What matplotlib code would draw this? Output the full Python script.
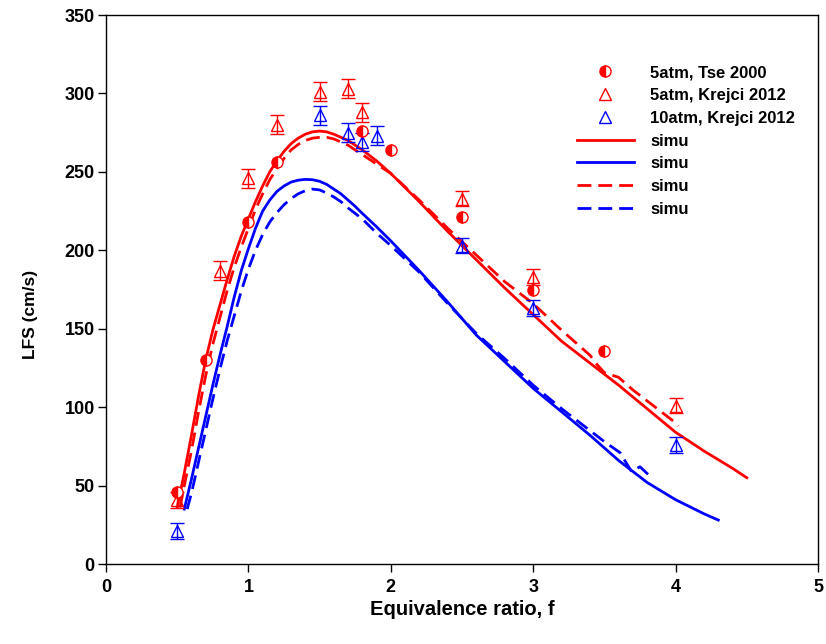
import numpy as np
import matplotlib
matplotlib.use("Agg")
import matplotlib.pyplot as plt

plt.rcParams['font.family'] = ['Liberation Sans', 'DejaVu Sans']
plt.rcParams['font.weight'] = 'bold'

# experimental data
tse_x = [0.5, 0.7, 1.0, 1.2, 1.8, 2.0, 2.5, 3.0, 3.5]
tse_y = [46, 130, 218, 256, 276, 264, 221, 175, 136]

kr5_x = [0.5, 0.8, 1.0, 1.2, 1.5, 1.7, 1.8, 2.5, 3.0, 4.0]
kr5_y = [41, 187, 246, 280, 301, 303, 288, 233, 183, 101]
kr5_err = [5, 6, 6, 6, 6, 6, 6, 5, 5, 5]

kr10_x = [0.5, 1.5, 1.7, 1.8, 1.9, 2.5, 3.0, 4.0]
kr10_y = [21, 286, 275, 269, 273, 203, 163, 76]
kr10_err = [5, 6, 6, 6, 6, 5, 5, 5]

# simulations
sim5_x = [0.50, 0.55, 0.60, 0.65, 0.70, 0.75, 0.80, 0.85, 0.90, 0.95, 1.00, 1.05,
          1.10, 1.15, 1.20, 1.25, 1.30, 1.35, 1.40, 1.45, 1.50, 1.55, 1.60, 1.65,
          1.70, 1.75, 1.80, 1.90, 2.00, 2.20, 2.40, 2.60, 2.80, 3.00, 3.20, 3.40,
          3.60, 3.80, 4.00, 4.20, 4.40, 4.50]
sim5_y = [36, 58, 82, 107, 130, 149, 165, 181, 196, 209, 220, 231,
          241, 250, 257, 263, 268, 271.5, 274, 275.5, 276, 275.5, 274, 272,
          270, 267, 264, 257, 249, 231, 212, 194, 176, 159, 142, 128,
          114, 99, 84, 72, 61, 55]

sim10_x = [0.55, 0.60, 0.65, 0.70, 0.75, 0.80, 0.85, 0.90, 0.95, 1.00, 1.05, 1.10,
           1.15, 1.20, 1.25, 1.30, 1.35, 1.40, 1.45, 1.50, 1.55, 1.60, 1.65, 1.70,
           1.75, 1.80, 1.90, 2.00, 2.20, 2.40, 2.60, 2.80, 3.00, 3.20, 3.40, 3.60,
           3.80, 4.00, 4.20, 4.30]
sim10_y = [35, 54, 74, 94, 114, 133, 151, 170, 187, 201, 214, 225,
           232, 237.5, 241, 243.5, 244.7, 245.2, 245, 244, 242, 239, 236, 232,
           228, 223.5, 215, 206, 187, 167, 146, 129, 112, 97, 82, 66,
           52, 41, 32, 28]

sim5d_x = [0.52, 0.55, 0.60, 0.65, 0.70, 0.75, 0.80, 0.85, 0.90, 0.95, 1.00, 1.05,
           1.10, 1.15, 1.20, 1.25, 1.30, 1.35, 1.40, 1.45, 1.50, 1.55, 1.60, 1.65,
           1.70, 1.75, 1.80, 1.90, 2.00, 2.20, 2.40, 2.60, 2.80, 3.00, 3.20, 3.40,
           3.45, 3.50, 3.60, 3.70, 3.80, 3.90, 4.00, 4.02]
sim5d_y = [36, 50, 72, 97, 120, 140, 157, 174, 189, 202, 214, 226,
           236, 245, 252, 258.5, 264, 267.5, 270, 271.5, 272, 272, 271, 269,
           267, 264, 261, 255, 249, 232, 214, 197, 180, 166, 149, 133,
           127, 122, 119, 111, 104, 97, 90, 88]

sim10d_x = [0.57, 0.60, 0.65, 0.70, 0.75, 0.80, 0.85, 0.90, 0.95, 1.00, 1.05, 1.10,
            1.15, 1.20, 1.25, 1.30, 1.35, 1.40, 1.45, 1.50, 1.55, 1.60, 1.65, 1.70,
            1.75, 1.80, 1.90, 2.00, 2.20, 2.40, 2.60, 2.80, 3.00, 3.20, 3.40, 3.50,
            3.61, 3.65, 3.69, 3.75, 3.82]
sim10d_y = [35, 45, 65, 85, 105, 124, 142, 158, 174, 188, 200, 210,
            218, 224, 229, 233, 236, 238, 239, 238.5, 236.5, 234, 231, 227,
            223.5, 220, 211, 203, 186, 166, 147, 131, 114, 99, 85, 78,
            71, 65, 59, 62, 56]

red = '#ff0000'
blue = '#0000ff'

fig = plt.figure(figsize=(8.26, 6.44), dpi=100)
ax = fig.add_axes([0.1283, 0.1242, 0.8620, 0.8525])

h_tse, = ax.plot(tse_x, tse_y, 'o', color=red, mec=red, mfc=red, fillstyle='left',
                 markerfacecoloralt='white', ms=8, mew=1, zorder=5)
eb5 = ax.errorbar(kr5_x, kr5_y, yerr=kr5_err, fmt='^', color=red, mfc='none', ms=9,
                  mew=1, elinewidth=1, capsize=5, capthick=1, zorder=4)
eb10 = ax.errorbar(kr10_x, kr10_y, yerr=kr10_err, fmt='^', color=blue, mfc='none', ms=9,
                   mew=1, elinewidth=1, capsize=5, capthick=1, zorder=4)

h1, = ax.plot(sim5_x, sim5_y, '-', color=red, lw=2)
h2, = ax.plot(sim10_x, sim10_y, '-', color=blue, lw=2)
h3, = ax.plot(sim5d_x, sim5d_y, '--', color=red, lw=2, dashes=(5, 2.5))
h4, = ax.plot(sim10d_x, sim10d_y, '--', color=blue, lw=2, dashes=(5, 2.5))

ax.set_xlim(0, 5)
ax.set_ylim(0, 350)
ax.set_xticks(range(0, 6))
ax.set_yticks(range(0, 351, 50))
ax.tick_params(direction='out', length=6, width=1, labelsize=13)
ax.tick_params(axis='x', pad=5)
ax.tick_params(axis='y', pad=2)
for lab in ax.get_xticklabels() + ax.get_yticklabels():
    lab.set_fontweight('bold')
for s in ax.spines.values():
    s.set_linewidth(1)

ax.set_xlabel('Equivalence ratio, f', fontsize=14.5, fontweight='bold', labelpad=3)
ax.set_ylabel('LFS (cm/s)', fontsize=12.5, fontweight='bold')
ax.yaxis.set_label_coords(-0.095, 0.455)

handles = [h_tse, eb5[0], eb10[0], h1, h2, h3, h4]
labels = ['5atm, Tse 2000', '5atm, Krejci 2012', '10atm, Krejci 2012',
          'simu', 'simu', 'simu', 'simu']
leg = fig.legend(handles, labels, loc='upper left',
                 bbox_to_anchor=(577 / 826, 1 - 65 / 644),
                 frameon=False, fontsize=12, handlelength=3.4, labelspacing=0.47,
                 handletextpad=1.0, borderpad=0, borderaxespad=0)
for t in leg.get_texts():
    t.set_fontweight('bold')

fig.savefig('out.png', dpi=100)
